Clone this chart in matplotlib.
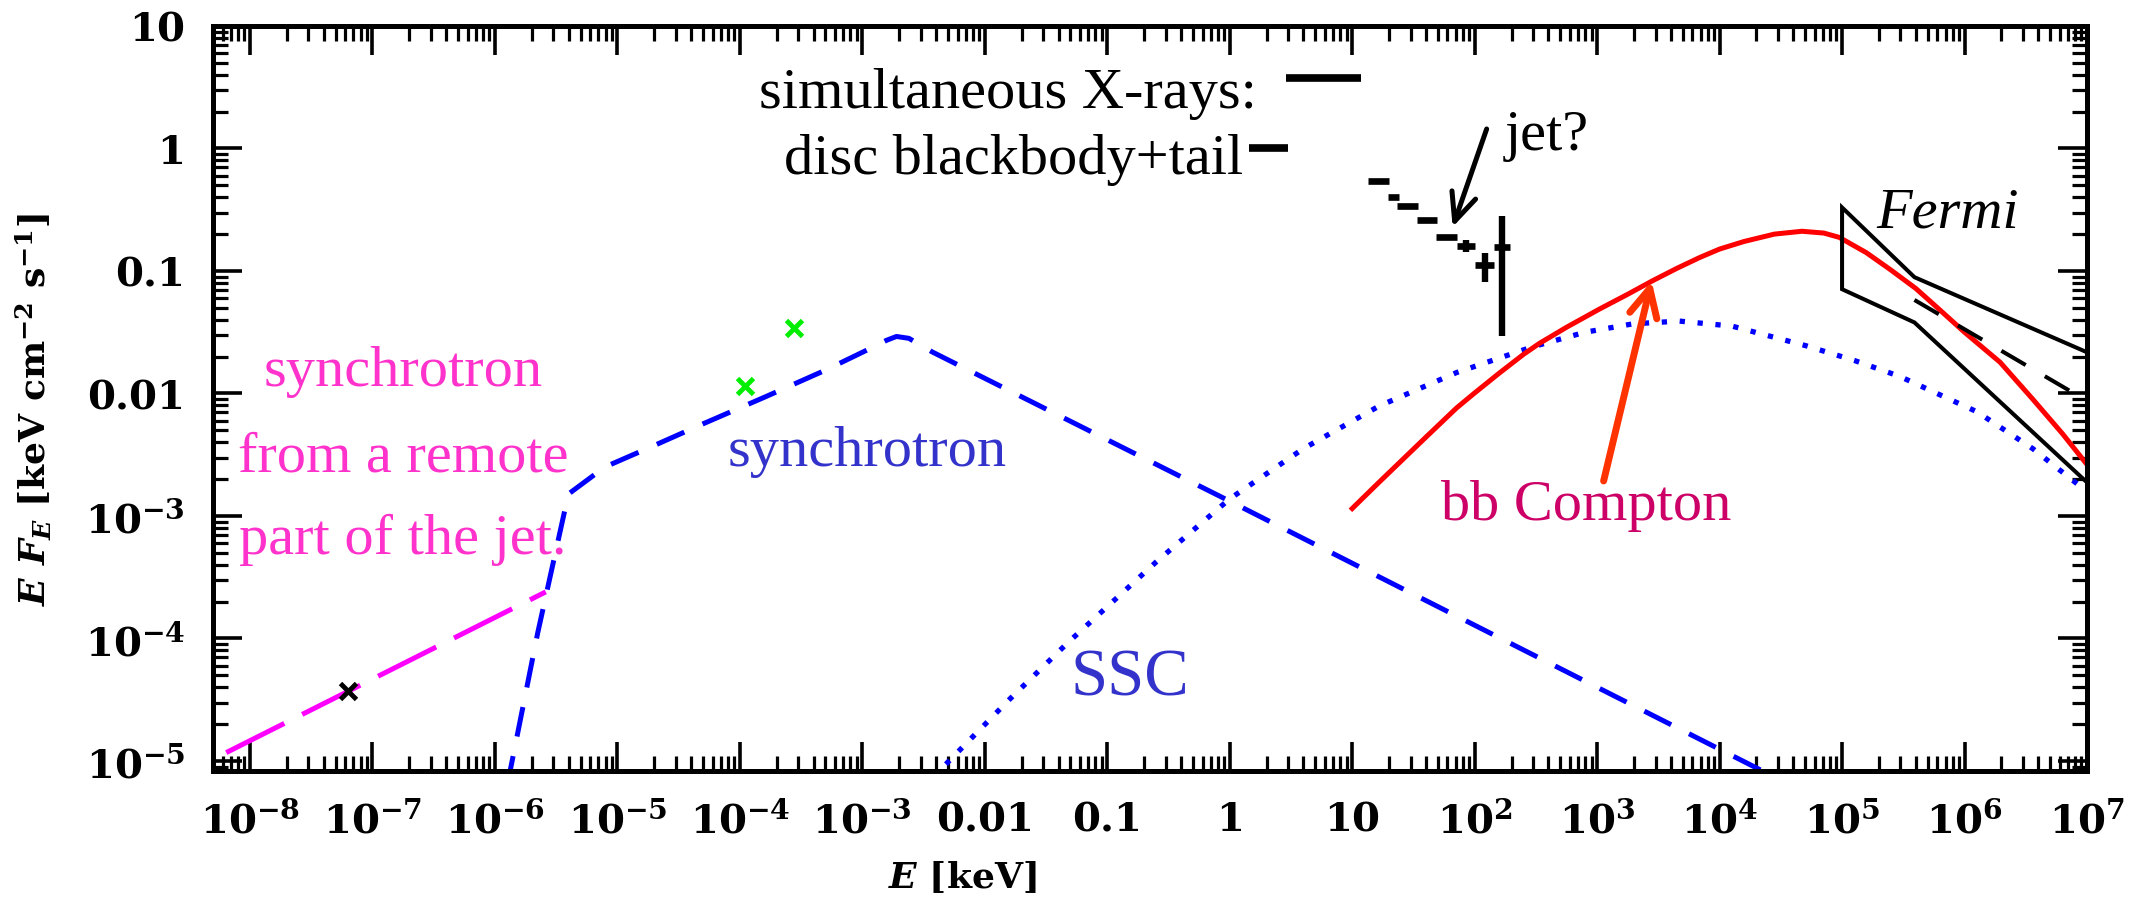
import numpy as np
import matplotlib
matplotlib.use("Agg")
import matplotlib.pyplot as plt
from matplotlib.ticker import FixedLocator, FuncFormatter, LogLocator, NullFormatter

# ---------------- data ----------------
remote_E = [6.4e-9, 2.6e-6]
remote_F = [1.17e-5, 2.4e-4]
remote_pt_E = [6.3e-8]
remote_pt_F = [3.7e-5]

optical_E = [1.1e-4, 2.75e-4]
optical_F = [0.0115, 0.034]

sync_E = [1.26e-6, 2.24e-6, 3.98e-6, 7.9e-6, 1.95e-5, 4.7e-5, 1.58e-4, 5.0e-4,
          1.12e-3, 1.58e-3, 1.9e-3, 2.4e-3, 3.7e-3, 1.0, 2.8e4]
sync_F = [6.3e-6, 1.12e-4, 1.51e-3, 2.51e-3, 3.72e-3, 5.5e-3, 9.3e-3, 1.55e-2,
          2.29e-2, 2.72e-2, 2.92e-2, 2.82e-2, 2.19e-2, 1.32e-3, 7.4e-6]

ssc_E = [3.8e-3, 1.58e-2, 4.8e-2, 0.25, 1.0, 4.0, 16.6, 71, 295, 794, 1950, 4680,
         1.26e4, 5.1e4, 1.26e5, 2.95e5, 1.26e6, 3.6e6, 1e7]
ssc_F = [7.4e-6, 3.16e-5, 9.3e-5, 4.2e-4, 1.38e-3, 3.55e-3, 7.9e-3, 1.48e-2, 2.4e-2,
         3.16e-2, 3.7e-2, 3.9e-2, 3.55e-2, 2.45e-2, 1.86e-2, 1.38e-2, 7.1e-3, 3.55e-3, 1.58e-3]

bbc_E = [10, 15.8, 25, 40, 71, 100, 158, 251, 339, 562, 1050, 1780, 2820, 4470, 6900,
         1.0e4, 1.58e4, 2.8e4, 4.7e4, 7.1e4, 9.5e4, 1.58e5, 2.5e5, 4.0e5, 6.3e5, 1e6,
         1.95e6, 3.6e6, 6.3e6, 1e7]
bbc_F = [1.15e-3, 1.8e-3, 2.8e-3, 4.4e-3, 7.6e-3, 1.01e-2, 1.46e-2, 2.09e-2, 2.57e-2,
         3.47e-2, 4.9e-2, 6.46e-2, 8.3e-2, 0.105, 0.129, 0.151, 0.174, 0.20, 0.211, 0.204,
         0.188, 0.141, 0.102, 7.2e-2, 4.8e-2, 3.16e-2, 1.8e-2, 9.0e-3, 4.7e-3, 2.63e-3]

fermi_E = [1e7, 3.9e5, 1e5, 1e5, 3.9e5, 1e7]
fermi_F = [0.0217, 0.089, 0.33, 0.071, 0.038, 1.88e-3]
fermi_mid_E = [3.9e5, 1e7]
fermi_mid_F = [0.058, 8.7e-3]

xray_E_lo = [13.5, 19.5, 23.4, 34, 48, 72, 100, 145]
xray_E_hi = [20, 24, 34.7, 49, 72, 100, 145, 195]
xray_F = [0.54, 0.40, 0.34, 0.263, 0.19, 0.161, 0.112, 0.156]
xray_F_lo = [0.54, 0.40, 0.34, 0.263, 0.19, 0.144, 0.082, 0.0296]
xray_F_hi = [0.54, 0.40, 0.34, 0.263, 0.19, 0.180, 0.140, 0.283]

key_E_lo = [2.9, 1.45]
key_E_hi = [11.7, 3.0]
key_F = [3.75, 1.0]

x_ticks = [1e-8, 1e-7, 1e-6, 1e-5, 1e-4, 1e-3, 1e-2, 1e-1, 1, 10, 1e2, 1e3, 1e4, 1e5, 1e6, 1e7]
y_ticks = [1e-5, 1e-4, 1e-3, 1e-2, 1e-1, 1, 10]
plain_labels = {-2: "0.01", -1: "0.1", 0: "1", 1: "10"}

# ---------------- style ----------------
plt.rcParams["font.family"] = "DejaVu Serif"
plt.rcParams["font.weight"] = "bold"
plt.rcParams["mathtext.fontset"] = "custom"
plt.rcParams["mathtext.rm"] = "DejaVu Serif:bold"
plt.rcParams["mathtext.bf"] = "DejaVu Serif:bold"
plt.rcParams["mathtext.it"] = "DejaVu Serif:bold:italic"

W, H = 2141, 903
fig = plt.figure(figsize=(W / 100, H / 100), dpi=100)
L, R, T, B = 213, 2087, 27, 772
ax = fig.add_axes([L / W, 1 - B / H, (R - L) / W, (B - T) / H])
ax.set_xscale("log")
ax.set_yscale("log")
ax.set_xlim(10 ** -8.302, 1e7)
ax.set_ylim(10 ** -5.082, 10)


def P(px, py):
    """pixel position in the figure -> data coordinates"""
    return 10 ** (-8 + (px - 250) / 122.5), 10 ** (1 - (py - 27) / 122.5)


# curves
ax.plot(remote_E, remote_F, color="#FF00FF", lw=3.6, dashes=(13, 4), solid_capstyle="butt")
ax.plot(sync_E, sync_F, color="#0000FF", lw=3.6, dashes=(6, 4))
ax.plot(ssc_E, ssc_F, color="#0000FF", lw=3.8, dashes=(1, 2.4), dash_capstyle="butt")
ax.plot(bbc_E, bbc_F, color="#FF0000", lw=3.6)
ax.plot(fermi_E, fermi_F, color="k", lw=2.9, solid_joinstyle="miter")
ax.plot(fermi_mid_E, fermi_mid_F, color="k", lw=2.9, dashes=(7, 5.5))

# points
ax.plot(remote_pt_E, remote_pt_F, "x", color="k", ms=11, mew=3.5)
ax.plot(optical_E, optical_F, "x", color="#00EE00", ms=11, mew=3.5)

# X-ray data
for lo, hi, f, flo, fhi in zip(xray_E_lo, xray_E_hi, xray_F, xray_F_lo, xray_F_hi):
    ax.plot([lo, hi], [f, f], color="k", lw=4.8, solid_capstyle="butt")
    if fhi > flo:
        ec = np.sqrt(lo * hi)
        ax.plot([ec, ec], [flo, fhi], color="k", lw=4.6, solid_capstyle="butt")
for lo, hi, f in zip(key_E_lo, key_E_hi, key_F):
    ax.plot([lo, hi], [f, f], color="k", lw=5.5, solid_capstyle="butt")

# ---------------- texts ----------------
serif = dict(family="Liberation Serif", weight="normal")
fs = 42
ax.text(*P(1257, 108), "simultaneous X-rays:", ha="right", va="baseline", fontsize=fs, color="k", **serif)
ax.text(*P(1243, 174), "disc blackbody+tail", ha="right", va="baseline", fontsize=fs, color="k", **serif)
ax.text(*P(1505, 150), "jet?", ha="left", va="baseline", fontsize=fs, color="k", **serif)
ax.text(*P(1877, 228), "Fermi", ha="left", va="baseline", fontsize=fs, color="k",
        style="italic", family="Liberation Serif", weight="normal")
ax.text(*P(728, 466), "synchrotron", ha="left", va="baseline", fontsize=fs, color="#3333CC", **serif)
ax.text(*P(1130, 696), "SSC", ha="center", va="baseline", fontsize=48, color="#3333CC", **serif)
ax.text(*P(1441, 520), "bb Compton", ha="left", va="baseline", fontsize=fs, color="#CC0066", **serif)
for txt, yb in [("synchrotron", 386), ("from a remote", 472), ("part of the jet.", 554)]:
    ax.text(*P(403, yb), txt, ha="center", va="baseline", fontsize=fs, color="#FF33CC", **serif)

# arrows
ax.annotate("", xy=P(1453, 228), xytext=P(1487, 130),
            arrowprops=dict(arrowstyle="->,head_length=1.0,head_width=0.45", lw=3.6,
                            color="k", mutation_scale=20, shrinkA=0, shrinkB=0))
ax.annotate("", xy=P(1652, 282), xytext=P(1604, 482),
            arrowprops=dict(arrowstyle="->,head_length=1.0,head_width=0.5", lw=5,
                            color="#FF3300", mutation_scale=20, shrinkA=0, shrinkB=0))

# ---------------- axes ----------------
def fmt(v, pos):
    e = int(round(np.log10(v)))
    if e in plain_labels:
        return plain_labels[e]
    return r"$10^{%d}$" % e


ax.xaxis.set_major_locator(FixedLocator(x_ticks))
ax.yaxis.set_major_locator(FixedLocator(y_ticks))
ax.xaxis.set_major_formatter(FuncFormatter(fmt))
ax.yaxis.set_major_formatter(FuncFormatter(fmt))
ax.xaxis.set_minor_locator(LogLocator(base=10, subs=np.arange(2, 10), numticks=40))
ax.yaxis.set_minor_locator(LogLocator(base=10, subs=np.arange(2, 10), numticks=40))
ax.xaxis.set_minor_formatter(NullFormatter())
ax.yaxis.set_minor_formatter(NullFormatter())
ax.tick_params(which="both", direction="in", top=True, right=True, labelsize=29)
ax.tick_params(which="major", length=21, width=2.6)
ax.tick_params(which="minor", length=11, width=2.3)
ax.tick_params(axis="x", pad=21)
ax.tick_params(axis="y", pad=20)
for s in ax.spines.values():
    s.set_linewidth(3.6)

fig.text(962 / W, 1 - 877 / H, r"$E$ [keV]", ha="center", va="center", fontsize=26)
fig.text(34 / W, 1 - 410 / H, r"$E\ F_E$ [keV cm$^{-2}$ s$^{-1}$]", ha="center",
         va="center", rotation=90, fontsize=26)

fig.savefig("out.png", dpi=100)
